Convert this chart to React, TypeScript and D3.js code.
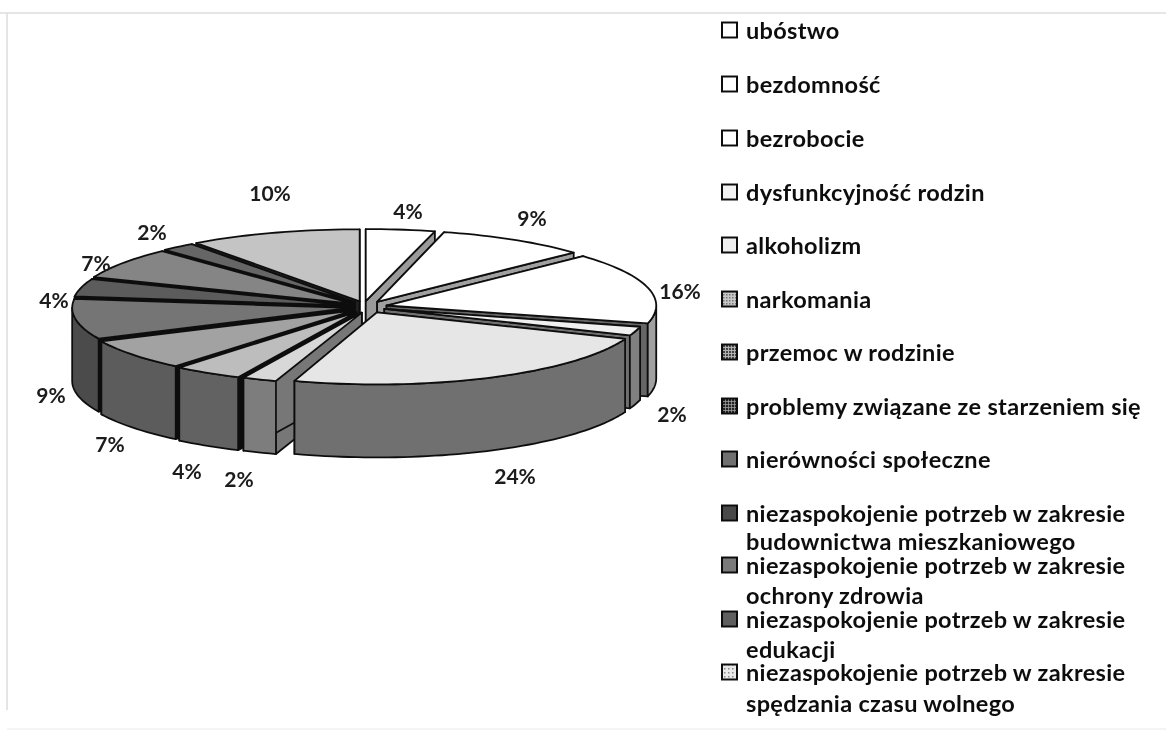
import React from "react";
import * as d3 from "d3";

const categories = [
  ["ubóstwo"],
  ["bezdomność"],
  ["bezrobocie"],
  ["dysfunkcyjność rodzin"],
  ["alkoholizm"],
  ["narkomania"],
  ["przemoc w rodzinie"],
  ["problemy związane ze starzeniem się"],
  ["nierówności społeczne"],
  ["niezaspokojenie potrzeb w zakresie", "budownictwa mieszkaniowego"],
  ["niezaspokojenie potrzeb w zakresie", "ochrony zdrowia"],
  ["niezaspokojenie potrzeb w zakresie", "edukacji"],
  ["niezaspokojenie potrzeb w zakresie", "spędzania czasu wolnego"],
];
const values = [4, 9, 16, 2, 24, 2, 4, 7, 9, 4, 7, 2, 10];

const topColors = ["#ffffff", "#ffffff", "#ffffff", "#f0f0f0", "#e6e6e6", "#d8d8d8", "#bdbdbd", "#a2a2a2", "#747474", "#5c5c5c", "#858585", "#666666", "#c4c4c4"];
const wallColors = ["#a8a8a8", "#a8a8a8", "#a0a0a0", "#808080", "#6f6f6f", "#7d7d7d", "#626262", "#5c5c5c", "#4c4c4c", "#444444", "#555555", "#444444", "#777777"];
const faceColors = ["#9a9a9a", "#a0a0a0", "#666666", "#707070", "#666666", "#777777", "#111111", "#111111", "#111111", "#111111", "#111111", "#111111", "#222222"];
const swatchFills = ["#ffffff", "#ffffff", "#ffffff", "#f2f2f2", "#eeeeee", "url(#dA)", "url(#dB)", "url(#dC)", "#707070", "#4a4a4a", "#7a7a7a", "#5f5f5f", "url(#dD)"];

const sliceShiftX = [0, 6, 9, 7, 7, 3, 0, 0, 0, 0, 0, 0, 0];
const sliceScale = [1, 0.97, 0.97, 0.95, 0.96, 1, 1, 1, 1, 1, 1, 1, 1];
const paintRank = [0, 1, 2, 8, 12, 7, 6, 5, 4, 3, 2, 1, 0];

const labelX = [408, 532, 680, 672, 515, 239, 187, 110, 51, 54, 96, 152, 270];
const labelY = [210, 217, 290, 413, 475, 478, 470, 443, 394, 299, 262, 231, 192];
const legendY = [30, 84, 138, 192, 245, 299, 352, 406, 459, 513, 565, 619, 672];
const secondLineY = [0, 0, 0, 0, 0, 0, 0, 0, 0, 541, 595, 649, 703];

const CX = 364, CY = 307, RX = 278, RY = 72, DEPTH = 73, EX = 14, EY = 6;
const FONT = "Lato, 'Open Sans', sans-serif";

const px = d3.scaleLinear().domain([-1, 1]).range([-RX, RX]);
const py = d3.scaleLinear().domain([-1, 1]).range([RY, -RY]);

const line = d3.line<[number, number]>().x((d) => d[0]).y((d) => d[1]);

function sampled(a0: number, a1: number) {
  const n = Math.max(2, Math.ceil((a1 - a0) / 0.03));
  return d3.range(n + 1).map((i) => a0 + ((a1 - a0) * i) / n);
}

export default function App() {
  const arcs = d3.pie<number>().sort(null).startAngle(0).endAngle(2 * Math.PI)(values);
  const slices = arcs.map((a, i) => {
    const mid = (a.startAngle + a.endAngle) / 2;
    const ox = CX + EX * Math.sin(mid) + sliceShiftX[i];
    const oy = CY - EY * Math.cos(mid);
    const k = sliceScale[i];
    const pt = (t: number, dz = 0): [number, number] => [ox + k * px(Math.sin(t)), oy + py(Math.cos(t)) + dz];
    const top = [[ox, oy] as [number, number], ...sampled(a.startAngle, a.endAngle).map((t) => pt(t))];
    const face = (t: number) => [[ox, oy], pt(t), pt(t, DEPTH), [ox, oy + DEPTH]] as [number, number][];
    const w0 = Math.max(a.startAngle, Math.PI / 2);
    const w1 = Math.min(a.endAngle, (3 * Math.PI) / 2);
    const wall = w1 > w0 ? [...sampled(w0, w1).map((t) => pt(t)), ...sampled(w0, w1).reverse().map((t) => pt(t, DEPTH))] : null;
    return { i, mid, top, f0: face(a.startAngle), f1: face(a.endAngle), wall };
  });
  const order = [...slices].sort((a, b) => paintRank[a.i] - paintRank[b.i]);

  return (
    <svg width={1166} height={731} style={{ position: "absolute", left: 0, top: 0, background: "#fff" }} fontFamily={FONT}>
      <defs>
        <filter id="scan"><feGaussianBlur stdDeviation="0.5" /></filter>
        <pattern id="dA" width="3" height="3" patternUnits="userSpaceOnUse">
          <rect width="3" height="3" fill="#c8c8c8" /><rect width="1.5" height="1.5" fill="#777" />
        </pattern>
        <pattern id="dB" width="3" height="3" patternUnits="userSpaceOnUse">
          <rect width="3" height="3" fill="#b0b0b0" /><rect width="2" height="2" fill="#444" />
        </pattern>
        <pattern id="dC" width="3" height="3" patternUnits="userSpaceOnUse">
          <rect width="3" height="3" fill="#999" /><rect width="2.2" height="2.2" fill="#222" />
        </pattern>
        <pattern id="dD" width="4" height="4" patternUnits="userSpaceOnUse">
          <rect width="4" height="4" fill="#e8e8e8" /><rect width="1.5" height="1.5" fill="#888" />
        </pattern>
      </defs>
      <g filter="url(#scan)">
        <path d="M0 13H1166" stroke="#dedede" strokeWidth={1.5} fill="none" />
        <path d="M7 13V710" stroke="#dddddd" strokeWidth={1.5} fill="none" />
        <path d="M7 729H1166" stroke="#e8e8e8" strokeWidth={1} fill="none" />
        {order.map((s) => (
          <g key={s.i} stroke="#111" strokeWidth={1.8} strokeLinejoin="round">
            <path d={line(s.f0)! + "Z"} fill={faceColors[s.i]} />
            <path d={line(s.f1)! + "Z"} fill={faceColors[s.i]} />
            {s.wall && <path d={line(s.wall as [number, number][])! + "Z"} fill={wallColors[s.i]} />}
            <path d={line(s.top)! + "Z"} fill={topColors[s.i]} />
          </g>
        ))}
        {values.map((v, i) => (
          <text key={i} x={labelX[i]} y={labelY[i]} textAnchor="middle" dominantBaseline="central" fontSize={21} fontWeight={700} fill="#1a1a1a">
            {v}%
          </text>
        ))}
        {categories.map((c, i) => (
          <g key={i}>
            <rect x={722} y={legendY[i] - 7.5} width={15} height={15} fill={swatchFills[i]} stroke="#111" strokeWidth={2} />
            <text x={746} y={legendY[i]} dominantBaseline="central" fontSize={23.5} fontWeight={700} letterSpacing={0.33} fill="#111">{c[0]}</text>
            {c[1] && <text x={746} y={secondLineY[i]} dominantBaseline="central" fontSize={23.5} fontWeight={700} letterSpacing={0.33} fill="#111">{c[1]}</text>}
          </g>
        ))}
      </g>
    </svg>
  );
}
